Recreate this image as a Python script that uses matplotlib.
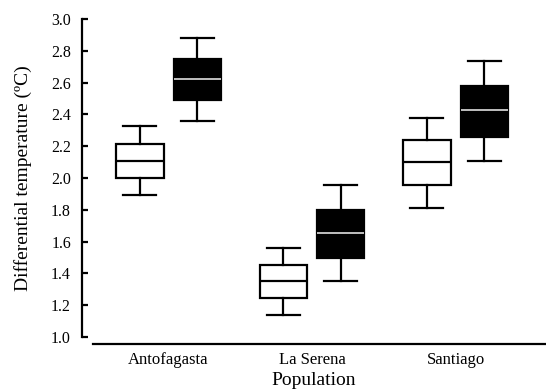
import numpy as np
import matplotlib.pyplot as plt

plt.rcParams['font.family'] = 'Liberation Serif'

# data
populations = ['Antofagasta', 'La Serena', 'Santiago']

white_lo = [1.89, 1.14, 1.81]
white_q1 = [2.00, 1.245, 1.955]
white_med = [2.105, 1.35, 2.10]
white_q3 = [2.215, 1.455, 2.24]
white_hi = [2.33, 1.56, 2.38]

black_lo = [2.36, 1.35, 2.105]
black_q1 = [2.49, 1.50, 2.26]
black_med = [2.62, 1.655, 2.425]
black_q3 = [2.75, 1.80, 2.58]
black_hi = [2.88, 1.955, 2.735]

y_ticks = np.arange(1.0, 3.01, 0.2)


def make_stats(lo, q1, med, q3, hi):
    return [dict(whislo=a, q1=b, med=c, q3=d, whishi=e, fliers=[])
            for a, b, c, d, e in zip(lo, q1, med, q3, hi)]


fig = plt.figure(figsize=(5.46, 3.91), dpi=100)
ax = fig.add_axes([0.1502, 0.1381, 0.8498, 0.8133])

pos = np.arange(len(populations))
w = 0.33
lw = 1.6

ax.bxp(make_stats(white_lo, white_q1, white_med, white_q3, white_hi),
       positions=pos - 0.2, widths=w, capwidths=w * 0.7, patch_artist=True,
       showfliers=False,
       boxprops=dict(facecolor='white', edgecolor='black', linewidth=lw),
       medianprops=dict(color='black', linewidth=lw),
       whiskerprops=dict(color='black', linewidth=lw),
       capprops=dict(color='black', linewidth=lw))

ax.bxp(make_stats(black_lo, black_q1, black_med, black_q3, black_hi),
       positions=pos + 0.2, widths=w, capwidths=w * 0.7, patch_artist=True,
       showfliers=False,
       boxprops=dict(facecolor='black', edgecolor='black', linewidth=lw),
       medianprops=dict(color='#e0e0e0', linewidth=1.2),
       whiskerprops=dict(color='black', linewidth=lw),
       capprops=dict(color='black', linewidth=lw))

ax.set_xlim(-0.603, 2.63)
ax.set_ylim(1.0, 3.0)
ax.set_yticks(y_ticks)
ax.set_yticklabels([f"{v:.1f}" for v in y_ticks])
ax.set_xticks(pos)
ax.set_xticklabels(populations)

ax.spines['top'].set_visible(False)
ax.spines['right'].set_visible(False)
ax.spines['left'].set_linewidth(1.6)
ax.spines['bottom'].set_linewidth(1.6)
ax.spines['bottom'].set_position(('outward', 5))
ax.spines['bottom'].set_bounds(-0.526, 2.63)

ax.tick_params(axis='y', direction='in', length=4, width=1.6, labelsize=11.5, pad=8)
ax.tick_params(axis='x', length=0, pad=6, labelsize=12)

ax.set_ylabel("Differential temperature (ºC)", fontsize=14, labelpad=14)
ax.set_xlabel("Population", fontsize=14, labelpad=3)

fig.savefig("out.png", dpi=100)
